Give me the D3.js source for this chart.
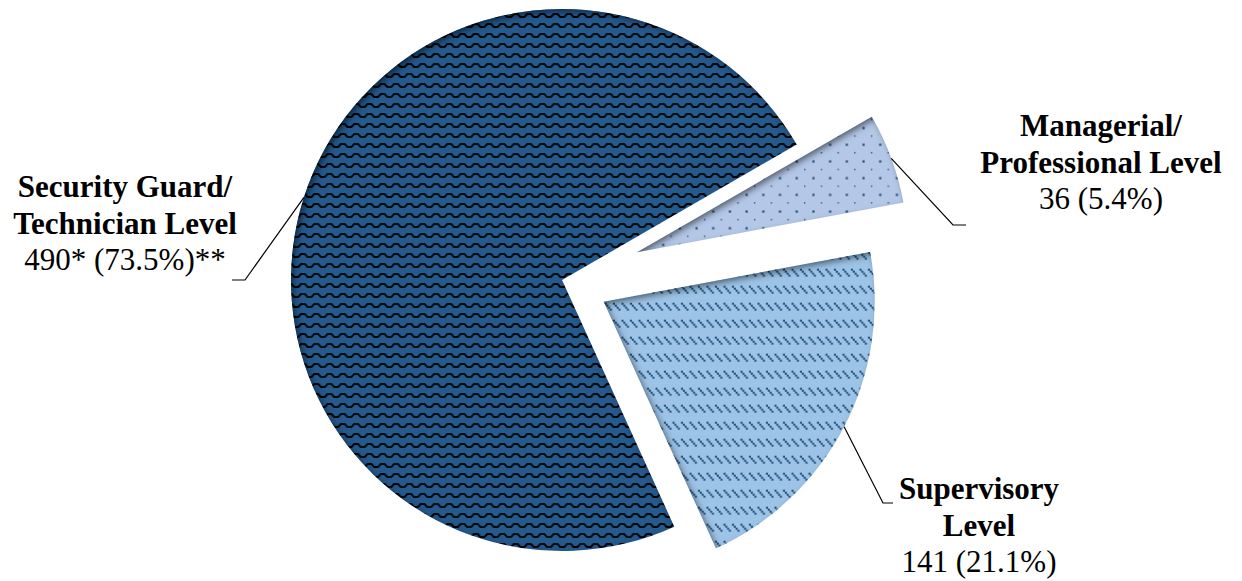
<!DOCTYPE html>
<html><head><meta charset="utf-8">
<script src="https://cdn.jsdelivr.net/npm/d3@7"></script>
<style>html,body{margin:0;padding:0;background:#fff;} svg{display:block;}</style>
</head><body><svg id="chart" width="1242" height="581"></svg>
<script>
// ---- data ----
const categories = ["Managerial/Professional Level", "Supervisory Level", "Security Guard/Technician Level"];
const values = [36, 141, 490];
const titleLines = [["Managerial/", "Professional Level"], ["Supervisory", "Level"], ["Security Guard/", "Technician Level"]];
const valueLabels = ["36 (5.4%)", "141 (21.1%)", "490* (73.5%)**"];

// ---- layout / style ----
const W = 1242, H = 581;
const cx = 562, cy = 280, R = 271;
const startDeg = 60;
const explode = [80, 47, 0];
const patternIds = ["dots", "dashes", "waves"];
const labelPos = [
  {x: 1101, y: 136, elbow: [953, 225], end: [966, 225]},
  {x: 979, y: 499, elbow: [883, 503], end: [893, 503]},
  {x: 125, y: 197, elbow: [245, 280], end: [232, 280]}
];
const lineH = 36.5;

const svg = d3.select("#chart");
const defs = svg.append("defs");

// inner shadow filter
const f = defs.append("filter").attr("id", "inner").attr("x", "-10%").attr("y", "-10%").attr("width", "120%").attr("height", "120%");
f.append("feFlood").attr("flood-color", "#000").attr("flood-opacity", 0.8).attr("result", "flood");
f.append("feComposite").attr("in", "flood").attr("in2", "SourceAlpha").attr("operator", "out").attr("result", "inverse");
f.append("feOffset").attr("in", "inverse").attr("dx", 3).attr("dy", 3).attr("result", "off");
f.append("feGaussianBlur").attr("in", "off").attr("stdDeviation", 3.2).attr("result", "blur");
f.append("feComposite").attr("in", "blur").attr("in2", "SourceAlpha").attr("operator", "in").attr("result", "shadow");
const fm = f.append("feMerge");
fm.append("feMergeNode").attr("in", "SourceGraphic");
fm.append("feMergeNode").attr("in", "shadow");

// waves pattern (security)
const pw = defs.append("pattern").attr("id", "waves").attr("patternUnits", "userSpaceOnUse")
  .attr("width", 13.3).attr("height", 10);
pw.append("rect").attr("width", 13.3).attr("height", 10).attr("fill", "#275a8c");
pw.append("path").attr("d", "M-1,7 L2.3,7 L5,4 L8.9,4 L11.6,7 L14.3,7")
  .attr("fill", "none").attr("stroke", "#03080e").attr("stroke-width", 2)
  .attr("stroke-linejoin", "miter");

// dots pattern (managerial)
const pd = defs.append("pattern").attr("id", "dots").attr("patternUnits", "userSpaceOnUse")
  .attr("width", 16.7).attr("height", 16.7);
pd.append("rect").attr("width", 16.7).attr("height", 16.7).attr("fill", "#b4c7e7");
pd.append("rect").attr("x", 8.3).attr("y", 8.3).attr("width", 2.2).attr("height", 2.2).attr("fill", "#1f4e79");
pd.append("rect").attr("x", 0).attr("y", 0).attr("width", 1.4).attr("height", 1.4).attr("fill", "#2e5a88");

// diagonal dashes pattern (supervisory)
const pl = defs.append("pattern").attr("id", "dashes").attr("patternUnits", "userSpaceOnUse")
  .attr("width", 8.5).attr("height", 17);
pl.append("rect").attr("width", 8.5).attr("height", 17).attr("fill", "#9dc3e6");
[0, 1, 2, 3].forEach(i => {
  pl.append("rect").attr("x", 0.8 + i * 1.8).attr("y", 1 + i * 2).attr("width", 2).attr("height", 2).attr("fill", "#1f4e79");
});

// pie
const pie = d3.pie().sort(null).value(d => d)
  .startAngle(startDeg * Math.PI / 180).endAngle(startDeg * Math.PI / 180 + 2 * Math.PI);
const arcs = pie(values);
const arc = d3.arc().innerRadius(0).outerRadius(R);

const g = svg.append("g").attr("transform", `translate(${cx},${cy})`);
const offs = arcs.map((a, i) => {
  const m = (a.startAngle + a.endAngle) / 2;
  return [explode[i] * Math.sin(m), -explode[i] * Math.cos(m), m];
});

g.selectAll("path.slice").data(arcs).join("path")
  .attr("class", "slice")
  .attr("transform", (d, i) => `translate(${offs[i][0]},${offs[i][1]})`)
  .attr("d", arc)
  .attr("fill", (d, i) => `url(#${patternIds[i]})`)
  .attr("filter", "url(#inner)");

// leader lines
arcs.forEach((a, i) => {
  const m = offs[i][2];
  const sx = cx + offs[i][0] + R * Math.sin(m);
  const sy = cy + offs[i][1] - R * Math.cos(m);
  const lp = labelPos[i];
  svg.append("polyline")
    .attr("points", [[sx, sy], lp.elbow, lp.end].map(p => p.join(",")).join(" "))
    .attr("fill", "none").attr("stroke", "#000").attr("stroke-width", 1.2);
});

// labels
arcs.forEach((a, i) => {
  const lp = labelPos[i];
  const t = svg.append("text").attr("text-anchor", "middle")
    .attr("font-family", "'Liberation Serif','Times New Roman',serif").attr("font-size", 31).attr("fill", "#000");
  titleLines[i].forEach((ln, j) => {
    t.append("tspan").attr("x", lp.x).attr("y", lp.y + j * lineH).attr("font-weight", "bold").text(ln);
  });
  t.append("tspan").attr("x", lp.x).attr("y", lp.y + titleLines[i].length * lineH).text(valueLabels[i]);
});
</script>
</body></html>
